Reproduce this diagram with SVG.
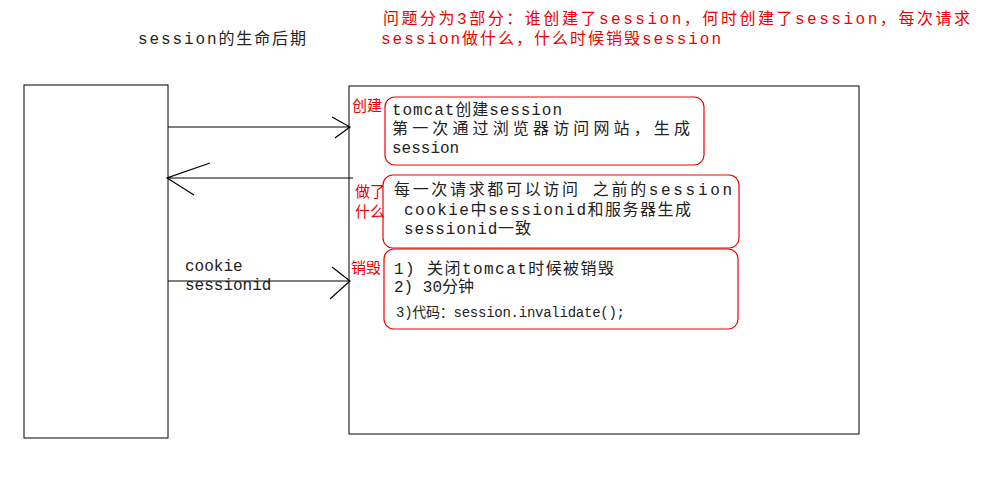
<svg xmlns="http://www.w3.org/2000/svg" width="996" height="481" viewBox="0 0 996 481">
<style>
text{font-family:"Liberation Mono","Noto Sans CJK SC",monospace;font-size:16px;fill:#222}
.r{fill:#e00}
.box{fill:none;stroke:#000;stroke-width:1}
.rb{fill:none;stroke:#e00;stroke-width:1.2}
.ln{stroke:#000;stroke-width:1.2;fill:none}
</style>
<rect width="996" height="481" fill="#fff"/>
<text x="138" y="44" textLength="168" lengthAdjust="spacing">session的生命后期</text>
<text class="r" x="383" y="24" textLength="587" lengthAdjust="spacing">问题分为3部分：谁创建了session，何时创建了session，每次请求</text>
<text class="r" x="381" y="44" textLength="340" lengthAdjust="spacing">session做什么，什么时候销毁session</text>
<g id="client"><rect class="box" x="24" y="85" width="144" height="353"/></g>
<g id="server"><rect class="box" x="349" y="86" width="510" height="348"/></g>
<g id="create">
<rect class="rb" x="385" y="97" width="319" height="68" rx="10"/>
<text class="r" x="352" y="111" style="font-size:15px">创建</text>
<text x="392" y="115" textLength="170" lengthAdjust="spacing">tomcat创建session</text>
<text x="392" y="134" textLength="298" lengthAdjust="spacing">第一次通过浏览器访问网站，生成</text>
<text x="392" y="153">session</text>
</g>
<g id="what">
<rect class="rb" x="383" y="175" width="356" height="73" rx="10"/>
<text class="r" x="355" y="197" style="font-size:15px">做了</text>
<text class="r" x="355" y="217" style="font-size:15px">什么</text>
<text x="394" y="195" textLength="338" lengthAdjust="spacing">每一次请求都可以访问 之前的session</text>
<text x="404" y="215" textLength="287" lengthAdjust="spacing">cookie中sessionid和服务器生成</text>
<text x="404" y="234" textLength="127" lengthAdjust="spacing">sessionid一致</text>
</g>
<g id="destroy">
<rect class="rb" x="384" y="249" width="354" height="80" rx="10"/>
<text class="r" x="351" y="273" style="font-size:15px">销毁</text>
<text x="394" y="274" textLength="220" lengthAdjust="spacing">1) 关闭tomcat时候被销毁</text>
<text x="394" y="292" textLength="80" lengthAdjust="spacing">2) 30分钟</text>
<text x="396" y="317" style="font-size:14px" textLength="229" lengthAdjust="spacing">3)代码：session.invalidate();</text>
</g>
<g id="connectors">
<path class="ln" d="M168 127H350M332 117L350 127L335 138"/>
<path class="ln" d="M353 178H167M210 163L167 178L194 195"/>
<path class="ln" d="M168 281H350M332 267L350 281L330 299"/>
<text x="185" y="271">cookie</text>
<text x="185" y="290">sessionid</text>
</g>
</svg>
